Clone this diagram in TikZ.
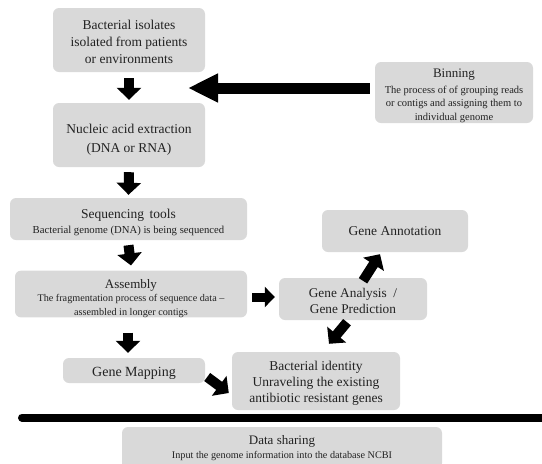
\documentclass[tikz,border=0pt]{standalone}
\usepackage{fontspec}
\setmainfont{Liberation Serif}
\usetikzlibrary{arrows.meta}
\definecolor{boxgray}{HTML}{D9D9D9}
\definecolor{txt}{HTML}{222222}
\newcommand{\tstrut}[1]{\rule{0pt}{#1pt}}
\begin{document}
\begin{tikzpicture}[x=1pt,y=-1pt,
  box/.style={fill=boxgray, rounded corners=6pt, align=center, inner sep=0pt, text=txt},
  barrow/.style={line width=10pt, -{Triangle[length=12pt,width=24pt]}},
  sarrow/.style={line width=9pt, -{Triangle[length=10pt,width=20pt]}},
  bigarrow/.style={line width=11pt, -{Triangle[length=30pt,width=27pt]}}
  ]
\useasboundingbox (0,0) rectangle (542,464);
\clip (0,0) rectangle (542,464);

\node[box, minimum width=152pt, minimum height=64pt, font=\fontsize{13.5}{17}\selectfont] (iso) at (129,40)
  {\tstrut{13}Bacterial isolates\\isolated from patients\\or environments};
\node[box, minimum width=152pt, minimum height=64pt, font=\fontsize{13.5}{19}\selectfont] (nuc) at (129,135)
  {\tstrut{18}Nucleic acid extraction\\(DNA or RNA)};
\node[box, minimum width=158pt, minimum height=61pt, font=\fontsize{10.5}{13.5}\selectfont] (bin) at (454,92.5)
  {{\fontsize{13}{14}\selectfont\tstrut{15.5}Binning}\\[2pt]The process of of grouping reads\\or contigs and assigning them to\\individual genome};
\node[box, minimum width=237pt, minimum height=42pt, font=\fontsize{13.5}{15}\selectfont] (seq) at (128.5,219)
  {\tstrut{16}Sequencing\ \,tools\\{\fontsize{10.7}{12}\selectfont Bacterial genome (DNA) is being sequenced}};
\node[box, minimum width=232pt, minimum height=42pt, font=\fontsize{10.2}{13.5}\selectfont] (asm) at (131,294)
  {{\fontsize{13}{14}\selectfont\tstrut{17.5}Assembly}\\The fragmentation process of sequence data --\\assembled in longer contigs};
\node[box, minimum width=146pt, minimum height=42pt, font=\fontsize{13.5}{15}\selectfont] (ann) at (395,231)
  {Gene Annotation};
\node[box, minimum width=148pt, minimum height=42pt, font=\fontsize{13.3}{16}\selectfont] (ana) at (353,299)
  {\tstrut{12.5}Gene Analysis\ \ /\\Gene Prediction};
\node[box, minimum width=142pt, minimum height=25pt, font=\fontsize{14}{15}\selectfont] (map) at (134,370.5)
  {\tstrut{14.5}Gene Mapping};
\node[box, minimum width=168pt, minimum height=58pt, font=\fontsize{13.5}{16}\selectfont] (bid) at (316,381)
  {\tstrut{13.5}Bacterial identity\\Unraveling the existing\\antibiotic resistant genes};
\node[box, minimum width=320pt, minimum height=42pt, font=\fontsize{10.2}{14}\selectfont] (dat) at (282,448)
  {{\fontsize{13}{14}\selectfont Data sharing}\\Input the genome information into the database NCBI};

\coordinate (gap) at (188,88);

\draw[barrow] ([yshift=-6pt]iso.south) -- ([yshift=3pt]nuc.north);
\draw[barrow] ([yshift=-5pt]nuc.south) -- ([yshift=3pt]seq.north);
\draw[barrow] ([yshift=-5pt]seq.south) -- ([yshift=5pt]asm.north);
\draw[barrow] ([xshift=-3pt,yshift=-15pt]asm.south) -- ([xshift=-6pt,yshift=5pt]map.north);
\draw[bigarrow] ([xshift=-5pt,yshift=4.5pt]bin.west) -- (gap);
\draw[sarrow] ([xshift=5pt,yshift=-3pt]asm.east) -- ([xshift=-4pt,yshift=2pt]ana.west);
\draw[barrow] ([xshift=10pt,yshift=-3pt]ana.north) -- ([xshift=-15pt,yshift=-2pt]ann.south);
\draw[barrow] ([xshift=-6pt,yshift=-2pt]ana.south) -- ([xshift=13pt,yshift=8pt]bid.north);
\draw[barrow] ([xshift=2pt,yshift=-6.5pt]map.east) -- ([xshift=-3pt,yshift=-12pt]bid.west);

\draw[line width=8pt, line cap=round] (22,417.5) -- (550,417.5);
\end{tikzpicture}
\end{document}
